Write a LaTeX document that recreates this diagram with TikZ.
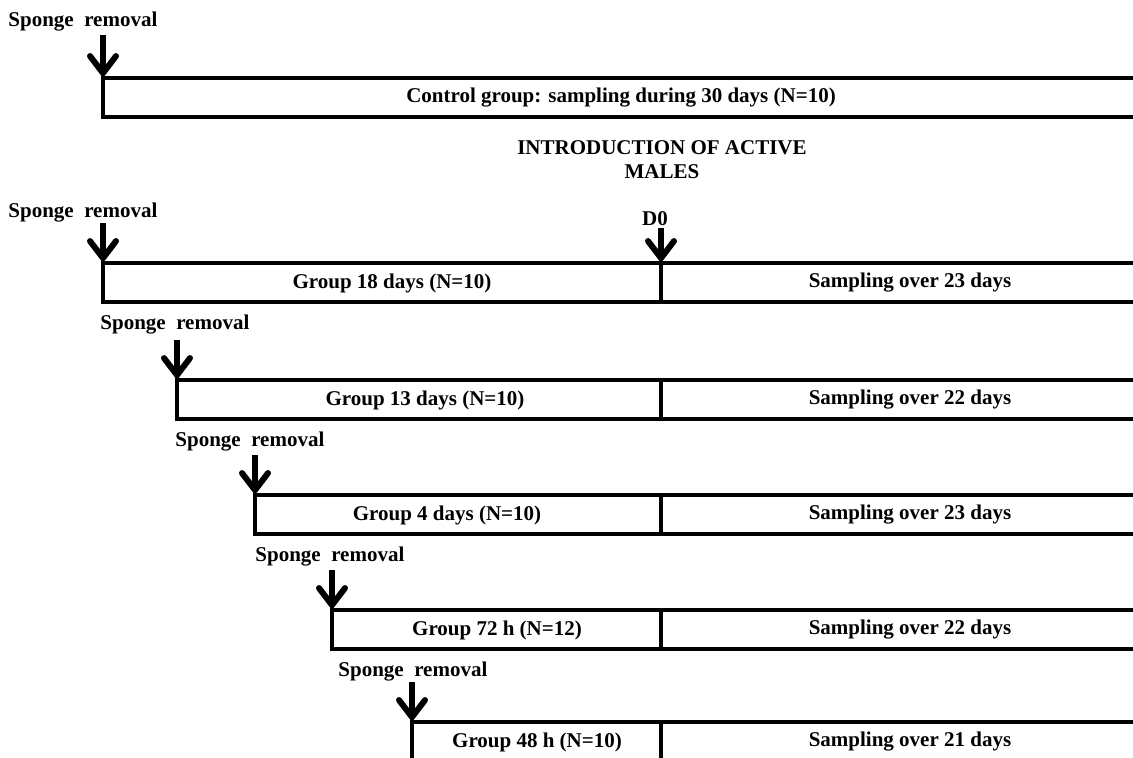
\documentclass[tikz,border=0pt]{standalone}
\usepackage{fontspec}
\setmainfont{Liberation Serif}
\usetikzlibrary{arrows.meta,positioning}
\tikzset{
  bar/.style={line width=2.4pt},
  drop/.style={line width=3pt, -{Straight Barb[length=8.5pt,width=13pt,line cap=round]}},
  lbl/.style={font=\bfseries\fontsize{10.5}{12}\selectfont, inner sep=0pt},
}
\begin{document}
\begin{tikzpicture}[x=0.5pt,y=-0.5pt]
    \useasboundingbox (0,0) rectangle (1133,757);
    % Control group
    \node[lbl, anchor=west] (sr0) at (8,22) {Sponge\ \ removal};
    \coordinate (top0) at (103,35);
    \coordinate (c0) at (103,78);
    \draw[bar] (1133,78) -- (c0) -- (103,117) -- (1133,117);
    \draw[drop] (top0) -- (c0);
    \node[lbl] (ctrl) at (621,98) {Control group: sampling during 30 days (N=10)};
    % Introduction of the males
    \node[lbl, align=center] (intro) at (662,160) {INTRODUCTION OF ACTIVE\\MALES};
    \node[lbl] (d0) at (655,219) {D0};
    \coordinate (d0top) at (661,228);
    \coordinate (div1) at (661,263);
    \draw[drop] (d0top) -- (div1);
    % Treated groups
    \foreach \n/\x/\t/\lx/\ly/\g/\gx/\s in {
      1/103/263/8/213/{Group 18 days (N=10)}/392/{Sampling over 23 days},
      2/177/380/100/325/{Group 13 days (N=10)}/425/{Sampling over 22 days},
      3/255/495/175/442/{Group 4 days (N=10)}/447/{Sampling over 23 days},
      4/332/610/255/557/{Group 72 h (N=12)}/497/{Sampling over 22 days},
      5/412/722/338/672/{Group 48 h (N=10)}/537/{Sampling over 21 days}} {
      \node[lbl, anchor=west] (sr\n) at (\lx,\ly) {Sponge\ \ removal};
      \coordinate (top\n) at (\x,\t-40);
      \coordinate (c\n) at (\x,\t);
      \draw[bar] (1133,\t) -- (c\n) -- (\x,\t+39) -- (1133,\t+39);
      \draw[bar] (661,\t) -- (661,\t+39);
      \draw[drop] (top\n) -- (c\n);
      \node[lbl] (grp\n) at (\gx,\t+20) {\g};
      \node[lbl] (smp\n) at (910,\t+20) {\s};
    }
\end{tikzpicture}
\end{document}
